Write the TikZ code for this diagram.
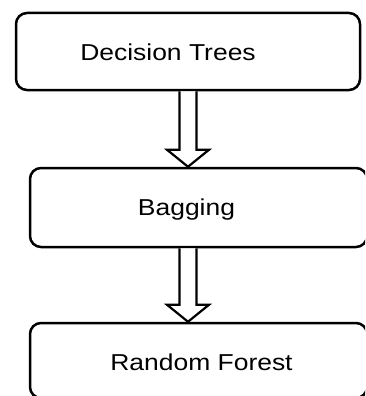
\documentclass[tikz,border=0pt]{standalone}
\usepackage{fontspec}
\setmainfont{Liberation Sans}
\usetikzlibrary{calc}
\tikzset{
  box/.style={draw=black, line width=2.5pt, rounded corners=11pt, fill=white, inner sep=0pt},
  lbl/.style={font=\fontsize{23}{27}\selectfont, inner sep=0pt, anchor=base},
  barrow/.style={draw=black, line width=2.2pt, fill=white, line join=miter}
}
\newcommand{\blockarrow}[2]{%
  \draw[barrow] let \p1=(#1), \p2=(#2) in
    (\x1-8.5pt,\y1) -- (\x1-8.5pt,\y2+17pt) -- (\x1-21pt,\y2+17pt) --
    (\x1,\y2) -- (\x1+21pt,\y2+17pt) -- (\x1+8.5pt,\y2+17pt) --
    (\x1+8.5pt,\y1);}
\begin{document}
\begin{tikzpicture}[x=1pt,y=-1pt]
\useasboundingbox (0,0) rectangle (365,396);
\clip (0,0) rectangle (365,396);
\node[box, minimum width=344pt, minimum height=77pt] (dt) at (188,51.5) {};
\node[box, minimum width=337pt, minimum height=79pt] (bg) at (198.5,207.5) {};
\node[box, minimum width=337pt, minimum height=75pt] (rf) at (198.5,360.5) {};
\node[lbl] (t1) at (168,61) {\scalebox{1.15}[1]{Decision Trees}};
\node[lbl] (t2) at (186.5,215) {\scalebox{1.15}[1]{Bagging}};
\node[lbl] (t3) at (201.5,370) {\scalebox{1.15}[1]{Random Forest}};
\blockarrow{dt.south}{dt.south |- bg.north}
\blockarrow{dt.south |- bg.south}{dt.south |- rf.north}
\end{tikzpicture}
\end{document}
